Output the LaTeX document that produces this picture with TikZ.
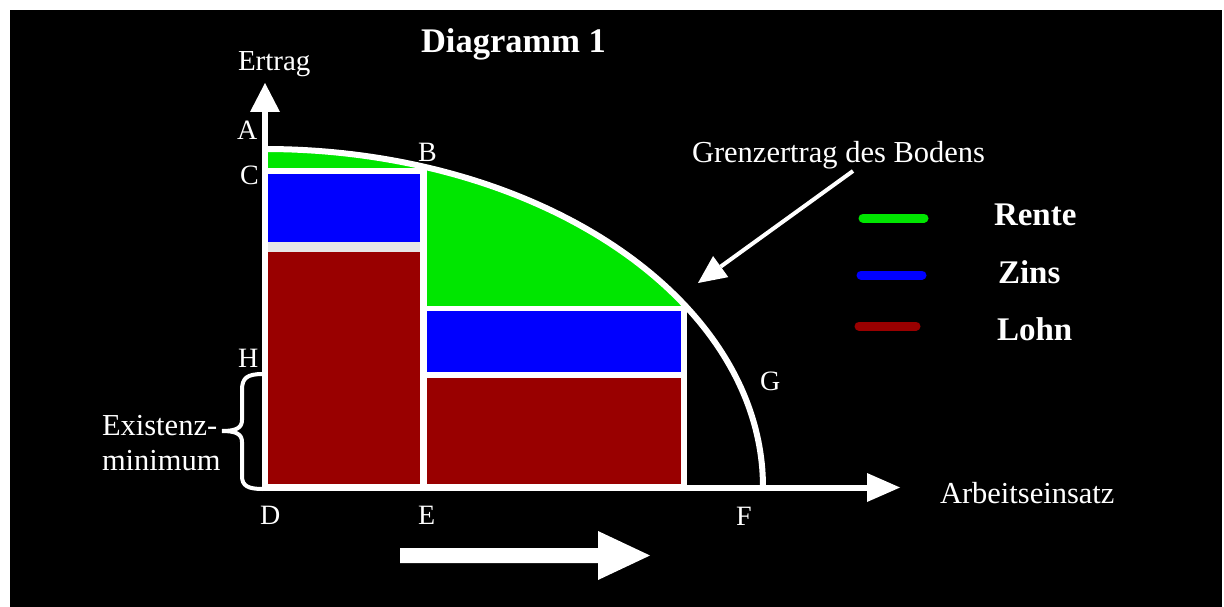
\documentclass[tikz,border=0pt]{standalone}
\usepackage{fontspec}
\setmainfont{Liberation Serif}
\usetikzlibrary{arrows.meta}
\definecolor{rgreen}{RGB}{0,230,0}
\definecolor{zblue}{RGB}{0,0,255}
\definecolor{lred}{RGB}{153,0,0}
\definecolor{gapgray}{RGB}{230,230,230}
\begin{document}
\begin{tikzpicture}[x=1pt,y=-1pt,
  lbl/.style={text=white, inner sep=0pt, outer sep=0pt, anchor=base west, font=\fontsize{28}{30}\selectfont},
  txt/.style={lbl, font=\fontsize{30.5}{32}\selectfont},
  legtxt/.style={lbl, font=\fontsize{33}{34}\selectfont\bfseries},
  axisline/.style={white, line width=6pt},
  swatch/.style={line width=9pt, line cap=round}]
\useasboundingbox (0,0) rectangle (1224,607);
\fill[white] (0,0) rectangle (1224,607);
\fill[black] (10,10) rectangle (1222,607);

% regions under the curve
\begin{scope}
\clip (265,487) -- plot[domain=90:0,samples=90] ({265+498*cos(\x)},{487-338*sin(\x)}) -- cycle;
\fill[white] (262,130) rectangle (687,491);
\fill[rgreen] (268,130) rectangle (420,168);
\fill[zblue] (268,174) rectangle (420,242);
\fill[gapgray] (268,242) rectangle (420,252);
\fill[lred] (268,252) rectangle (420,484);
\fill[rgreen] (427,130) rectangle (681,306);
\fill[zblue] (427,311) rectangle (681,372);
\fill[lred] (427,378) rectangle (681,484);
\end{scope}

% curve
\draw[white, line width=6pt] plot[domain=90:0,samples=90] ({265+498*cos(\x)},{487-338*sin(\x)});

% axes
\coordinate (ybot) at (265,491);
\coordinate (ytop) at (265,83);
\coordinate (xleft) at (262,487.5);
\coordinate (xright) at (900,487.5);
\draw[axisline, -{Triangle[length=29pt,width=30pt,line width=0pt]}] (ybot) -- (ytop);
\draw[axisline, -{Triangle[length=33pt,width=29pt,line width=0pt]}] (xleft) -- (xright);

% labels
\node[lbl] (A) at (237,140) {A};
\node[lbl] (C) at (240,185) {C};
\node[lbl] (B) at (418,162) {B};
\node[lbl] (H) at (238,367) {H};
\node[lbl] (D) at (260,524) {D};
\node[lbl] (E) at (418,524) {E};
\node[lbl] (F) at (736,525) {F};
\node[lbl] (G) at (760,390) {G};
\node[lbl, font=\fontsize{29}{30}\selectfont] (ertrag) at (238,71) {Ertrag};
\node[lbl, font=\fontsize{34.5}{36}\selectfont\bfseries] (title) at (421,52.5) {Diagramm 1};
\node[txt] (gz) at (692,162.5) {Grenzertrag des Bodens};
\node[txt] (arb) at (940,503) {Arbeitseinsatz};
\node[txt] (ex1) at (102,435) {Existenz-};
\node[txt] (ex2) at (102,470) {minimum};

% Grenzertrag arrow
\coordinate (gstart) at (853,171);
\coordinate (gtip) at (698,283);
\draw[white, line width=4pt, -{Triangle[length=28pt,width=26pt,line width=0pt]}] (gstart) -- (gtip);

% brace
\draw[white, line width=4pt, line cap=round]
  (263,374) .. controls (247,374) and (242,378) .. (242,390) -- (242,420)
  .. controls (242,428) and (236,431) .. (222,431)
  .. controls (236,431) and (242,434) .. (242,442) -- (242,476)
  .. controls (242,486) and (248,489) .. (263,489);

% legend
\draw[swatch, rgreen] (863,218) -- (924,218);
\draw[swatch, zblue] (861,275) -- (922,275);
\draw[swatch, lred] (859,326) -- (916,326);
\node[legtxt] (rente) at (994,225) {Rente};
\node[legtxt] (zins) at (998,283) {Zins};
\node[legtxt] (lohn) at (997,340) {Lohn};

% bottom arrow
\fill[white] (400,548) -- (598,548) -- (598,531) -- (650,555.5) -- (598,580) -- (598,563) -- (400,563) -- cycle;
\end{tikzpicture}
\end{document}
